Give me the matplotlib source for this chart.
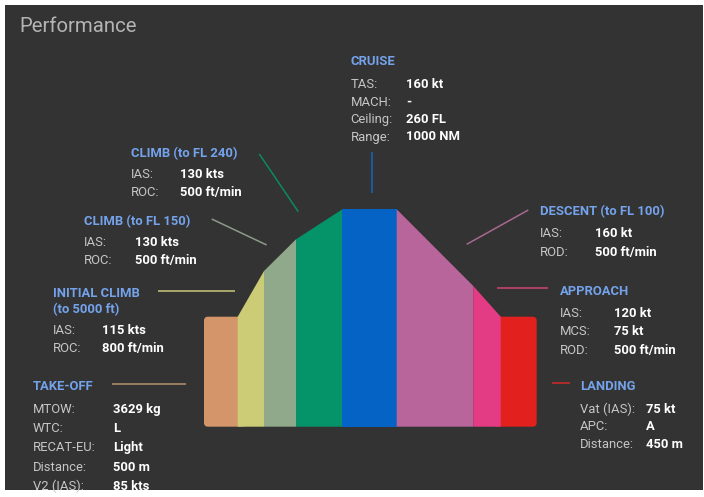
import matplotlib
matplotlib.use("Agg")
import matplotlib.pyplot as plt
from matplotlib.patches import FancyBboxPatch, Rectangle

# ---------------- data ----------------
phases = ["TAKE-OFF", "INITIAL CLIMB\n(to 5000 ft)", "CLIMB (to FL 150)", "CLIMB (to FL 240)",
          "CRUISE", "DESCENT (to FL 100)", "APPROACH", "LANDING"]
# profile of the flight shape: segment boundaries and heights at the boundaries
seg_edges = [0, 33.7, 60, 92, 138.3, 192.7, 269.3, 296.7, 332.7]
seg_start_h = [110, 110, 155.7, 187.4, 217.4, 217.4, 140.7, 110]
seg_end_h = [110, 155.7, 187.4, 217.4, 217.4, 140.7, 110, 110]
seg_colors = ["#d4956a", "#cccb76", "#8fa98a", "#05936a", "#0563c6", "#b7659a", "#e43c84", "#e2201d"]
line_colors = ["#b8906c", "#c8c87a", "#8c9a8a", "#0a8a62", "#1a64c0", "#a86890", "#d04478", "#d02a26"]

takeoff_labels = ["MTOW:", "WTC:", "RECAT-EU:", "Distance:", "V2 (IAS):"]
takeoff_values = ["3629 kg", "L", "Light", "500 m", "85 kts"]
initial_labels = ["IAS:", "ROC:"]
initial_values = ["115 kts", "800 ft/min"]
climb150_labels = ["IAS:", "ROC:"]
climb150_values = ["130 kts", "500 ft/min"]
climb240_labels = ["IAS:", "ROC:"]
climb240_values = ["130 kts", "500 ft/min"]
cruise_labels = ["TAS:", "MACH:", "Ceiling:", "Range:"]
cruise_values = ["160 kt", "-", "260 FL", "1000 NM"]
descent_labels = ["IAS:", "ROD:"]
descent_values = ["160 kt", "500 ft/min"]
approach_labels = ["IAS:", "MCS:", "ROD:"]
approach_values = ["120 kt", "75 kt", "500 ft/min"]
landing_labels = ["Vat (IAS):", "APC:", "Distance:"]
landing_values = ["75 kt", "A", "450 m"]

# ---------------- figure ----------------
W, H = 704, 497
fig = plt.figure(figsize=(W / 100, H / 100), dpi=100)
fig.patch.set_facecolor("white")
ax = fig.add_axes([0, 0, 1, 1])
ax.set_xlim(0, W)
ax.set_ylim(H, 0)
ax.axis("off")
ax.add_patch(Rectangle((5, 5), 698, 485, facecolor="#333333", edgecolor="none", zorder=0))

FONT = ["Roboto", "DejaVu Sans"]
HEAD_C = "#74a3ec"
LAB_C = "#c6c6c6"
VAL_C = "#ffffff"
FS = 9.4

ax.text(19, 31.5, "Performance", fontsize=14.7, color="#b4b4b4", family=FONT, va="baseline", ha="left")

# ---------------- shape ----------------
x0, ybot = 204, 426.7
sx = fig.add_axes([x0 / W, (H - ybot) / H, seg_edges[-1] / W, max(seg_end_h) / H])
sx.set_xlim(0, seg_edges[-1])
sx.set_ylim(0, max(seg_end_h))
sx.axis("off")
sx.patch.set_alpha(0)

n = len(seg_colors)
for i in range(n):
    xa, xb = seg_edges[i], seg_edges[i + 1]
    ha_, hb_ = seg_start_h[i], seg_end_h[i]
    if i == 0:
        sx.add_patch(FancyBboxPatch((xa, 0), (xb - xa) + 8, ha_,
                                    boxstyle="round,pad=0,rounding_size=4",
                                    facecolor=seg_colors[i], edgecolor="none", zorder=1))
    elif i == n - 1:
        sx.add_patch(FancyBboxPatch((xa - 8, 0), (xb - xa) + 8, ha_,
                                    boxstyle="round,pad=0,rounding_size=4",
                                    facecolor=seg_colors[i], edgecolor="none", zorder=1))
    else:
        sx.fill([xa, xb, xb, xa], [0, 0, hb_, ha_], color=seg_colors[i], lw=0, zorder=2)

# ---------------- leader lines ----------------
leaders = [
    ((112, 185.5), (384, 384)),
    ((158, 235), (291.3, 291.3)),
    ((211.7, 266.7), (219, 245)),
    ((259.3, 298.3), (154, 211.7)),
    ((371.5, 371.5), (151.7, 193)),
    ((528.3, 466.7), (210, 244.3)),
    ((496.7, 548.3), (288.3, 288.3)),
    ((551.7, 570), (382.7, 382.7)),
]
for (xs, ys), c in zip(leaders, line_colors):
    ax.plot(xs, ys, color=c, lw=1.1, solid_capstyle="butt", zorder=3)

# ---------------- text blocks ----------------
def block(header_lines, hx, hy, labels, values, vx, ry, step):
    for k, hl in enumerate(header_lines):
        ax.text(hx, hy + k * 16 + 4.7, hl, fontsize=FS, color=HEAD_C, fontweight="bold",
                family=FONT, va="baseline", ha="left")
    for k, (lb, vl) in enumerate(zip(labels, values)):
        y = ry + k * step + 4.7
        ax.text(hx, y, lb, fontsize=FS, color=LAB_C, family=FONT, va="baseline", ha="left")
        ax.text(vx, y, vl, fontsize=FS, color=VAL_C, fontweight="bold", family=FONT,
                va="baseline", ha="left")

block([phases[0]], 32.7, 385, takeoff_labels, takeoff_values, 113.3, 408.3, 19.2)
block(phases[1].split("\n"), 52.7, 292.3, initial_labels, initial_values, 101.7, 329.3, 18)
block([phases[2]], 84, 220, climb150_labels, climb150_values, 135, 241.7, 17.6)
block([phases[3]], 131, 152.3, climb240_labels, climb240_values, 180, 173.3, 18.4)
block([phases[4]], 350.5, 60.7, cruise_labels, cruise_values, 406, 83.3, 17.5)
block([phases[5]], 540, 210.7, descent_labels, descent_values, 595, 232.3, 18.7)
block([phases[6]], 560, 290, approach_labels, approach_values, 614.3, 312.3, 18.4)
block([phases[7]], 580, 385, landing_labels, landing_values, 646, 408.3, 17.5)

fig.savefig("out.png", dpi=100, facecolor=fig.get_facecolor())
